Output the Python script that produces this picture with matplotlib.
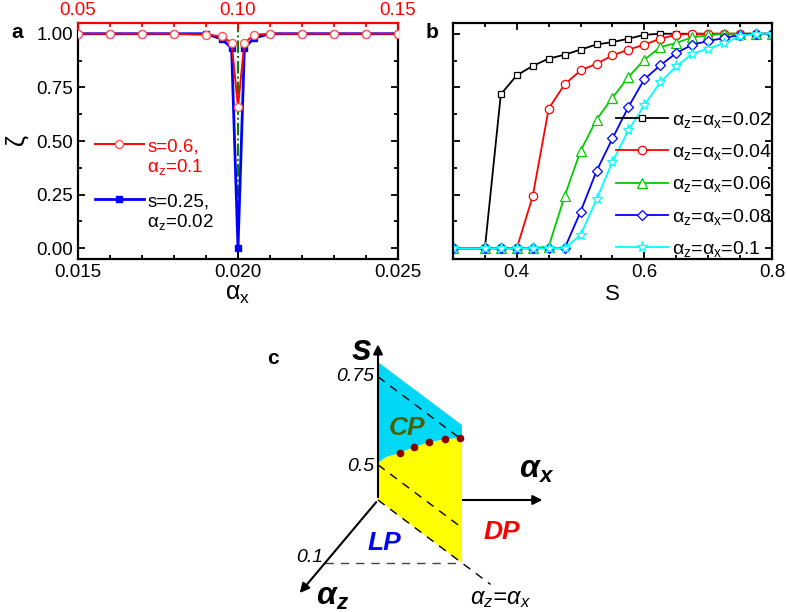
import numpy as np
import matplotlib
matplotlib.use('Agg')
import matplotlib.pyplot as plt
from matplotlib.ticker import MultipleLocator

plt.rcParams['font.family'] = ['Liberation Sans', 'DejaVu Sans']
plt.rcParams['mathtext.default'] = 'regular'

# ---- panel a data ----
# red series, top axis (alpha_x from 0.05 to 0.15), s=0.6, az=0.1
red_x = [0.05, 0.06, 0.07, 0.08, 0.09, 0.095, 0.098, 0.10, 0.102, 0.105, 0.11, 0.12, 0.13, 0.14, 0.15]
red_y = [1.0, 1.0, 1.0, 1.0, 0.995, 0.988, 0.957, 0.66, 0.957, 0.995, 1.0, 1.0, 1.0, 1.0, 1.0]
# blue series, bottom axis, s=0.25, az=0.02
blue_x = [0.015, 0.016, 0.017, 0.018, 0.019, 0.0195, 0.0198, 0.020, 0.0202, 0.0205, 0.021, 0.022, 0.023, 0.024, 0.025]
blue_y = [1.0, 1.0, 1.0, 1.0, 1.0, 0.975, 0.933, 0.0, 0.933, 0.98, 1.0, 1.0, 1.0, 1.0, 1.0]
crit_x = 0.020

# ---- panel b data ----
s_vals = [0.3, 0.35, 0.375, 0.4, 0.425, 0.45, 0.475, 0.5, 0.525, 0.55, 0.575, 0.6,
          0.625, 0.65, 0.675, 0.7, 0.725, 0.75, 0.775, 0.8]
zeta_002 = [0, 0, 0.718, 0.806, 0.85, 0.884, 0.902, 0.926, 0.95, 0.961, 0.977, 0.995,
            1, 1, 1, 1, 1, 1, 1, 1]
zeta_004 = [0, 0, 0, 0, 0.243, 0.651, 0.764, 0.829, 0.86, 0.899, 0.926, 0.949,
            0.977, 0.995, 1, 1, 1, 1, 1, 1]
zeta_006 = [0, 0, 0, 0, 0, 0.008, 0.243, 0.454, 0.6, 0.702, 0.798, 0.879,
            0.938, 0.957, 0.984, 0.992, 1, 1, 1, 1]
zeta_008 = [0, 0, 0, 0, 0, 0, 0, 0.171, 0.36, 0.512, 0.659, 0.788,
            0.853, 0.91, 0.949, 0.966, 0.98, 0.995, 1, 1]
zeta_010 = [0, 0, 0, 0, 0, 0, 0, 0.062, 0.228, 0.403, 0.55, 0.667,
            0.775, 0.848, 0.907, 0.93, 0.957, 0.988, 1, 1]
b_series = [zeta_002, zeta_004, zeta_006, zeta_008, zeta_010]
b_labels = ['0.02', '0.04', '0.06', '0.08', '0.1']
b_colors = ['black', 'red', '#00cc00', 'blue', 'cyan']
b_markers = ['s', 'o', '^', 'D', '*']
b_msizes = [5, 6, 6.5, 5, 8]

# ---- panel c (schematic) data, in (alpha_x, alpha_z, s) ----
bnd_t = [0.0, 0.01, 0.026, 0.043, 0.061, 0.080, 0.10]
bnd_s = [0.505, 0.54, 0.58, 0.627, 0.673, 0.716, 0.755]
dot_t = [0.026, 0.043, 0.061, 0.080, 0.098]
dot_s = [0.58, 0.627, 0.673, 0.716, 0.751]
s_top = 0.792
s_base = 0.4


def tick_style(ax):
    ax.tick_params(which='both', direction='in', top=True, right=True, width=1.3,
                   labelsize=13.5)
    ax.tick_params(which='major', length=5)
    ax.tick_params(which='minor', length=3)
    for sp in ax.spines.values():
        sp.set_linewidth(1.6)


fig = plt.figure(figsize=(7.87, 6.12), dpi=100)

# ---------------- panel a ----------------
ax_a = fig.add_axes([0.0991, 0.5768, 0.4066, 0.3856])
ax_a.axvline(crit_x, color='#008000', lw=1.4, ls='-.', zorder=1)
hb, = ax_a.plot(blue_x, blue_y, color='blue', lw=2, marker='s', ms=5,
                mfc='blue', mec='blue', zorder=2)
ax_a.set_xlim(0.015, 0.025)
ax_a.set_ylim(-0.05, 1.05)
ax_a.set_xticks([0.015, 0.020, 0.025])
ax_a.set_xticklabels(['0.015', '0.020', '0.025'])
ax_a.xaxis.set_minor_locator(MultipleLocator(0.001))
ax_a.set_yticks([0, 0.25, 0.5, 0.75, 1.0])
ax_a.set_yticklabels(['0.00', '0.25', '0.50', '0.75', '1.00'])
ax_a.yaxis.set_minor_locator(MultipleLocator(0.125))
tick_style(ax_a)
ax_a.tick_params(which='both', top=False)
ax_a.spines['top'].set_visible(False)
ax_a.set_xlabel(r'$\alpha_x$', fontsize=18, labelpad=1)
ax_a.set_ylabel(r'$\zeta$', fontsize=18, labelpad=4)

ax_t = ax_a.twiny()
hr, = ax_t.plot(red_x, red_y, color='red', lw=1.4, marker='o', ms=5.8,
                mfc='white', mec='#ff5555', zorder=3)
ax_t.set_xlim(0.05, 0.15)
ax_t.set_xticks([0.05, 0.10, 0.15])
ax_t.set_xticklabels(['0.05', '0.10', '0.15'])
ax_t.xaxis.set_minor_locator(MultipleLocator(0.01))
ax_t.tick_params(which='both', direction='in', width=1.3, colors='red',
                 labelsize=13.5, pad=3)
ax_t.tick_params(which='major', length=5)
ax_t.tick_params(which='minor', length=3)
for k in ['left', 'right', 'bottom']:
    ax_t.spines[k].set_visible(False)
ax_t.spines['top'].set_color('red')
ax_t.spines['top'].set_linewidth(1.6)

blank = plt.Line2D([], [], alpha=0)
leg_kw = dict(loc='upper left', frameon=False, fontsize=13.5, handlelength=2.6,
              handletextpad=0.2, labelspacing=0.1, borderaxespad=0, borderpad=0)
leg1 = ax_t.legend([hr, blank], ['s=0.6,', '$\\alpha_z$=0.1'],
                   bbox_to_anchor=(0.053, 0.513), **leg_kw)
for t in leg1.get_texts():
    t.set_color('red')
ax_t.add_artist(leg1)
ax_t.legend([hb, blank], ['s=0.25,', '$\\alpha_z$=0.02'],
            bbox_to_anchor=(0.053, 0.28), **leg_kw)
fig.text(0.015, 0.947, 'a', fontsize=15, fontweight='bold', va='center')

# ---------------- panel b ----------------
ax_b = fig.add_axes([0.5756, 0.5768, 0.4053, 0.3856])
for ys, lab, c, m, ms in zip(b_series, b_labels, b_colors, b_markers, b_msizes):
    ax_b.plot(s_vals, ys, color=c, lw=1.3, marker=m, ms=ms, mfc='white',
              mec=c, mew=0.9, label='$\\alpha_z$=$\\alpha_x$=' + lab)
ax_b.set_xlim(0.3, 0.8)
ax_b.set_ylim(-0.05, 1.05)
ax_b.set_xticks([0.4, 0.6, 0.8])
ax_b.set_xticklabels(['0.4', '0.6', '0.8'])
ax_b.xaxis.set_minor_locator(MultipleLocator(0.05))
ax_b.set_yticks([0, 0.25, 0.5, 0.75, 1.0])
ax_b.yaxis.set_minor_locator(MultipleLocator(0.125))
ax_b.set_yticklabels([])
tick_style(ax_b)
ax_b.set_xlabel('S', fontsize=16, labelpad=2)
ax_b.legend(loc='lower right', bbox_to_anchor=(1.0, 0.0), frameon=False,
            fontsize=14, handlelength=2.7, handletextpad=0.2,
            labelspacing=0.63, borderaxespad=0, borderpad=0)
fig.text(0.541, 0.947, 'b', fontsize=15, fontweight='bold', va='center')

# ---------------- panel c ----------------
ax_c = fig.add_axes([0, 0, 1, 1], zorder=-1)
ax_c.set_xlim(0, 787)
ax_c.set_ylim(612, 0)
ax_c.axis('off')


def proj(axv, azv, sv):
    X = 378 + np.asarray(axv) * 1370 - np.asarray(azv) * 530
    Y = 500 + np.asarray(azv) * 630 - (np.asarray(sv) - s_base) * 352
    return X, Y


arrow_kw = dict(arrowstyle='-|>', color='black', lw=1.5, mutation_scale=14)
x0, y0 = proj(0, 0, s_base)
x1, y1 = proj(0.122, 0, s_base)
ax_c.annotate('', xy=(x1, y1), xytext=(x0, y0), arrowprops=arrow_kw, zorder=1)
x1, y1 = proj(0, 0, 0.85)
ax_c.annotate('', xy=(x1, y1), xytext=(x0, y0), arrowprops=arrow_kw, zorder=4)
x1, y1 = proj(0, 0.151, s_base)
ax_c.annotate('', xy=(x1, y1), xytext=(x0, y0), arrowprops=arrow_kw, zorder=4)

# cyan region above boundary
ct = [0.0, 0.1] + bnd_t[::-1]
cs = [s_top, s_top] + bnd_s[::-1]
cx, cy = proj(ct, ct, cs)
ax_c.fill(cx, cy, color='#00d8f8', lw=0, zorder=2)
# yellow region below boundary
yt = bnd_t + [0.1, 0.0]
ys_ = bnd_s + [s_base, s_base]
yx, yy = proj(yt, yt, ys_)
ax_c.fill(yx, yy, color='#ffff00', lw=0, zorder=2)

# dashed guides
for sv in [0.75, 0.5]:
    gx, gy = proj([0, 0.1], [0, 0.1], [sv, sv])
    ax_c.plot(gx, gy, color='black', ls=(0, (6, 5)), lw=1, zorder=3)
gx, gy = proj([0, 0.134], [0, 0.134], [s_base, s_base])
ax_c.plot(gx, gy, color='black', ls=(0, (6, 5)), lw=1, zorder=3)
gx, gy = proj([0, 0.1], [0.1, 0.1], [s_base, s_base])
ax_c.plot(gx, gy, color='#444444', ls=(0, (6, 5)), lw=1, zorder=3)

# transition points
dx, dy = proj(dot_t, dot_t, dot_s)
ax_c.plot(dx, dy, 'o', color='#8b0000', ms=4.5, zorder=5)

# labels
tx, ty = proj(0, 0, 0.75)
ax_c.text(tx - 4, ty, '0.75', fontsize=14, style='italic', ha='right', va='center')
tx, ty = proj(0, 0, 0.5)
ax_c.text(tx - 4, ty + 2, '0.5', fontsize=14, style='italic', ha='right', va='center')
tx, ty = proj(0, 0.1, s_base)
ax_c.text(tx - 2, ty - 6, '0.1', fontsize=14, style='italic', ha='right', va='center')
ax_c.text(362, 350, 's', fontsize=26, fontweight='bold', style='italic',
          ha='center', va='center')
ax_c.text(537, 470, r'$\alpha_x$', fontsize=23, fontweight='bold', style='italic',
          ha='center', va='center')
ax_c.text(333, 597, r'$\alpha_z$', fontsize=23, fontweight='bold', style='italic',
          ha='center', va='center')
ax_c.text(500, 598, r'$\alpha_z$=$\alpha_x$', fontsize=17, style='italic',
          ha='center', va='center')
ax_c.text(407, 428, 'CP', fontsize=19, fontweight='bold', style='italic',
          color='#4f5f00', ha='center', va='center', zorder=6)
ax_c.text(384, 543, 'LP', fontsize=19, fontweight='bold', style='italic',
          color='blue', ha='center', va='center')
ax_c.text(502, 532, 'DP', fontsize=19, fontweight='bold', style='italic',
          color='red', ha='center', va='center')
ax_c.text(273, 358, 'c', fontsize=15, fontweight='bold', ha='center', va='center')

fig.savefig('out.png', dpi=100)
